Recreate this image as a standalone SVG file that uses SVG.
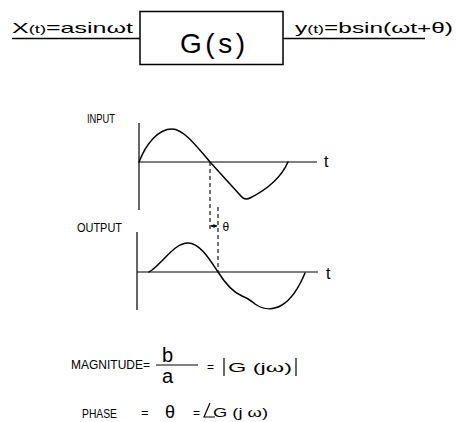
<svg xmlns="http://www.w3.org/2000/svg" width="456" height="422" viewBox="0 0 456 422">
<style>
.ln{stroke:#000;stroke-width:1.4;fill:none}
.ax{stroke:#000;stroke-width:1.2;fill:none}
.cv{stroke:#000;stroke-width:1.5;fill:none;stroke-linejoin:round;stroke-linecap:round}
.ds{stroke:#000;stroke-width:1.1;fill:none;stroke-dasharray:4,3}
.tx{font-family:"Liberation Sans",Arial,sans-serif;fill:#000}
.lb{font-family:"Liberation Sans","DejaVu Sans",sans-serif;fill:#000;font-size:13px}
</style>
<defs>
<marker id="ah" viewBox="0 0 6 6" refX="5" refY="3" markerWidth="4" markerHeight="4" orient="auto-start-reverse">
<path d="M0,0 L6,3 L0,6 z" fill="#000"/>
</marker>
</defs>
<rect width="456" height="422" fill="#fff"/>

<g id="connectors">
<line class="ln" x1="12" y1="38.5" x2="140" y2="38.5"/>
<line class="ln" x1="283" y1="38.5" x2="425" y2="38.5"/>
</g>

<g id="input-label">
<text class="tx" x="12" y="33" font-size="15" textLength="121" lengthAdjust="spacingAndGlyphs">X<tspan font-size="11">(t)</tspan>=asinωt</text>
</g>

<g id="G-block">
<rect x="140" y="11.5" width="143" height="53" fill="none" stroke="#000" stroke-width="1.5"/>
<text class="tx" x="180" y="53" font-size="28" textLength="65" lengthAdjust="spacing">G(s)</text>
</g>

<g id="output-label">
<text class="tx" x="295" y="33" font-size="15" textLength="158" lengthAdjust="spacingAndGlyphs">y<tspan font-size="11">(t)</tspan>=bsin(ωt+θ)</text>
</g>

<g id="input-graph">
<text class="lb" x="87" y="123" textLength="28" lengthAdjust="spacingAndGlyphs">INPUT</text>
<line class="ax" x1="139" y1="123" x2="139" y2="210"/>
<line class="ax" x1="139" y1="162" x2="317" y2="162"/>
<text class="tx" x="324" y="167" font-size="16">t</text>
<path class="cv" d="M139,162 C146,144 158,129 172,129 C184,129 198,148 210,162 L240,195 C243,199 246,200 250,198 C264,191 280,180 288,162"/>
</g>

<g id="phase-shift">
<line class="ds" x1="210" y1="162" x2="210" y2="229"/>
<line class="ds" x1="218" y1="207" x2="218" y2="272"/>
<line x1="211" y1="226" x2="217" y2="226" stroke="#000" stroke-width="1" marker-start="url(#ah)" marker-end="url(#ah)"/>
<text class="tx" x="222.5" y="231" font-size="12">θ</text>
</g>

<g id="output-graph">
<text class="lb" x="77" y="232" textLength="45" lengthAdjust="spacingAndGlyphs">OUTPUT</text>
<line class="ax" x1="137" y1="232" x2="137" y2="310"/>
<line class="ax" x1="137" y1="272" x2="318" y2="272"/>
<text class="tx" x="326" y="279" font-size="16">t</text>
<path class="cv" d="M149,272 L152,270 C165,260 175,243 188,243 C200,243 210,260 218,272 C225,283 232,292 242,296 C248,298 250,300 255,304 C262,309 272,311 282,305 C292,299 300,285 305,273"/>
</g>

<g id="magnitude">
<text class="lb" x="71" y="369" textLength="79" lengthAdjust="spacingAndGlyphs">MAGNITUDE=</text>
<text class="tx" x="162" y="362" font-size="20">b</text>
<line x1="156" y1="365" x2="198" y2="365" stroke="#000" stroke-width="1.1"/>
<text class="tx" x="162" y="383" font-size="20">a</text>
<text class="tx" x="207" y="371" font-size="12">=</text>
<line x1="224" y1="358" x2="224" y2="376" stroke="#000" stroke-width="1.2"/>
<text class="tx" x="228" y="372" font-size="13" textLength="64" lengthAdjust="spacingAndGlyphs">G (jω)</text>
<line x1="296" y1="358" x2="296" y2="376" stroke="#000" stroke-width="1.2"/>
</g>

<g id="phase">
<text class="lb" x="82" y="418" textLength="35" lengthAdjust="spacingAndGlyphs">PHASE</text>
<text class="tx" x="141" y="417" font-size="13">=</text>
<text class="tx" x="165" y="418" font-size="18">θ</text>
<text class="tx" x="193" y="417" font-size="12">=</text>
<path d="M210,403 L204,417 L215,417" stroke="#000" stroke-width="1.2" fill="none"/>
<text class="tx" x="213" y="417" font-size="12" textLength="55" lengthAdjust="spacingAndGlyphs">G (j ω)</text>
</g>
</svg>
